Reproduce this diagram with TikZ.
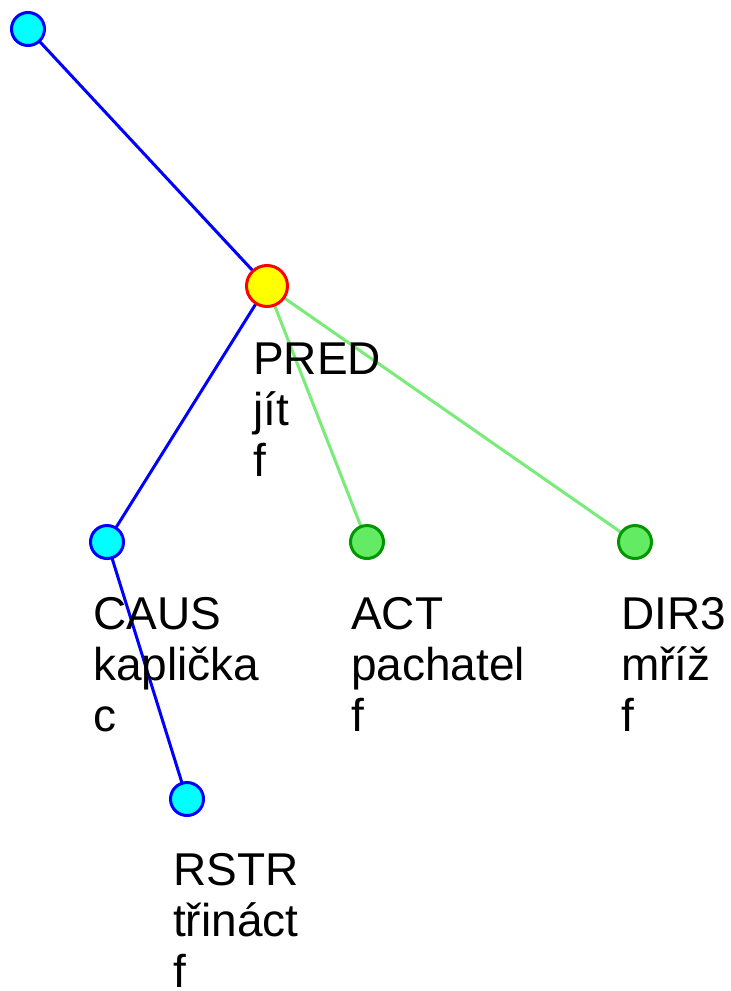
\documentclass[tikz,border=0pt]{standalone}
\usepackage{fontspec}
\setmainfont{Liberation Sans}
\definecolor{cyanfill}{RGB}{0,255,255}
\definecolor{blueedge}{RGB}{0,0,255}
\definecolor{greenfill}{RGB}{100,235,100}
\definecolor{greenborder}{RGB}{0,150,0}
\definecolor{greenedge}{RGB}{120,235,120}
\definecolor{predfill}{RGB}{255,255,0}
\definecolor{predborder}{RGB}{255,0,0}
\tikzset{
  bluenode/.style={circle,draw=blueedge,fill=cyanfill,line width=3pt,minimum size=33pt,inner sep=0pt},
  greennode/.style={circle,draw=greenborder,fill=greenfill,line width=3pt,minimum size=33pt,inner sep=0pt},
  prednode/.style={circle,draw=predborder,fill=predfill,line width=3pt,minimum size=41pt,inner sep=0pt},
  blueline/.style={draw=blueedge,line width=3pt},
  greenline/.style={draw=greenedge,line width=3pt},
  lbl/.style={anchor=north west,inner sep=0pt,align=left,font=\fontsize{46}{51}\selectfont,text=black}
}
\begin{document}
\begin{tikzpicture}[x=1pt,y=-1pt]
\useasboundingbox[fill=white] (0,0) rectangle (731,991);
% edges
\coordinate (cr) at (28,29);
\coordinate (cp) at (267,286);
\coordinate (cc) at (107,542);
\coordinate (ca) at (367,542);
\coordinate (cd) at (635,542);
\coordinate (cs) at (187,799);
\draw[blueline] (cr) -- (cp);
\draw[blueline] (cp) -- (cc);
\draw[blueline] (cc) -- (cs);
\draw[greenline] (cp) -- (ca);
\draw[greenline] (cp) -- (cd);
% nodes
\node[bluenode] (root) at (cr) {};
\node[prednode] (pred) at (cp) {};
\node[bluenode] (caus) at (cc) {};
\node[greennode] (act) at (ca) {};
\node[greennode] (dir) at (cd) {};
\node[bluenode] (rstr) at (cs) {};
% labels
\node[lbl] (lpred) at (253,343) {PRED\\jít\\f};
\node[lbl] (lcaus) at (93,597) {CAUS\\kaplička\\c};
\node[lbl] (lact) at (351,597) {ACT\\pachatel\\f};
\node[lbl] (ldir) at (621,597) {DIR3\\mříž\\f};
\node[lbl] (lrstr) at (173,853) {RSTR\\třináct\\f};
\end{tikzpicture}
\end{document}
